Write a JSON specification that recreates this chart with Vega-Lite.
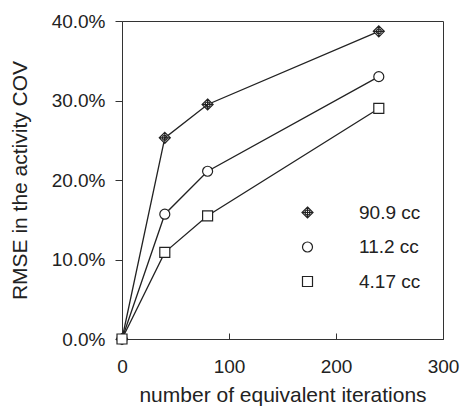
{
  "$schema": "https://vega.github.io/schema/vega-lite/v6.json",
  "autosize": "none",
  "padding": {"left": 122, "top": 21, "right": 18, "bottom": 68},
  "width": 321,
  "height": 318,
  "background": "white",
  "config": {
    "font": "Liberation Sans",
    "view": {"stroke": "#333", "strokeWidth": 1},
    "axis": {
      "grid": false,
      "labelFont": "Liberation Sans",
      "titleFont": "Liberation Sans",
      "labelFontSize": 19,
      "titleFontSize": 21,
      "titleFontWeight": "normal",
      "labelColor": "#222",
      "titleColor": "#222",
      "domainColor": "#333",
      "tickColor": "#333",
      "domainWidth": 1,
      "tickWidth": 1,
      "labelFlush": false
    }
  },
  "data": {
    "values": [
      {"series": "90.9 cc", "curve": "90.9 cc", "iter": 0, "rmse": 0},
      {"series": "90.9 cc", "curve": "90.9 cc", "iter": 40, "rmse": 0.253},
      {"series": "90.9 cc", "curve": "90.9 cc", "iter": 80, "rmse": 0.295},
      {"series": "90.9 cc", "curve": "90.9 cc", "iter": 240, "rmse": 0.387},
      {"series": "11.2 cc", "curve": "11.2 cc", "iter": 0, "rmse": 0},
      {"series": "11.2 cc", "curve": "11.2 cc", "iter": 40, "rmse": 0.157},
      {"series": "11.2 cc", "curve": "11.2 cc", "iter": 80, "rmse": 0.211},
      {"series": "11.2 cc", "curve": "11.2 cc", "iter": 240, "rmse": 0.330},
      {"series": "4.17 cc", "curve": "4.17 cc", "iter": 0, "rmse": 0},
      {"series": "4.17 cc", "curve": "4.17 cc", "iter": 40, "rmse": 0.109},
      {"series": "4.17 cc", "curve": "4.17 cc", "iter": 80, "rmse": 0.155},
      {"series": "4.17 cc", "curve": "4.17 cc", "iter": 240, "rmse": 0.290}
    ]
  },
  "encoding": {
    "x": {
      "field": "iter", "type": "quantitative",
      "scale": {"domain": [0, 300], "nice": false, "zero": true},
      "axis": {"values": [0, 100, 200, 300], "tickSize": -6, "labelPadding": 24, "labelFlush": false, "title": "number of equivalent iterations", "titlePadding": 8}
    },
    "y": {
      "field": "rmse", "type": "quantitative",
      "scale": {"domain": [0, 0.4], "nice": false},
      "axis": {"values": [0, 0.1, 0.2, 0.3, 0.4], "format": ".1%", "tickSize": 7, "labelPadding": 10, "labelFlush": false, "title": "RMSE in the activity COV", "titlePadding": 21}
    }
  },
  "layer": [
    {
      "mark": {"type": "line", "color": "#222", "strokeWidth": 1.3},
      "encoding": {"detail": {"field": "series", "type": "nominal"}}
    },
    {
      "mark": {"type": "point", "filled": false, "fill": "white", "fillOpacity": 1, "strokeWidth": 1.2, "size": 100, "opacity": 1},
      "encoding": {
        "shape": {
          "field": "series", "type": "nominal",
          "scale": {
            "domain": ["90.9 cc", "11.2 cc", "4.17 cc"],
            "range": [
              "M0,-1.1L1.1,0L0,1.1L-1.1,0Z M0,-1.1V1.1 M-1.1,0H1.1 M-0.5,0A0.5,0.5 0 1,0 0.5,0A0.5,0.5 0 1,0 -0.5,0",
              "circle",
              "square"
            ]
          },
          "legend": null
        },
        "color": {
          "field": "curve", "type": "nominal",
          "scale": {
            "domain": ["90.9 cc", "11.2 cc", "4.17 cc"],
            "range": ["#222", "#222", "#222"]
          },
          "legend": {
            "orient": "none",
            "legendX": 176,
            "legendY": 182,
            "title": null,
            "labelFont": "Liberation Sans",
            "labelFontSize": 19,
            "labelColor": "#222",
            "labelOffset": 42,
            "rowPadding": 14.5,
            "symbolFillColor": "white",
            "symbolStrokeWidth": 1.2,
            "encode": {
              "symbols": {
                "shape": {
                  "value": {
                    "expr": "datum.value == '90.9 cc' ? 'M-6.3,0H-1.1M1.1,0H6.3M0,-1.1L1.1,0L0,1.1L-1.1,0Z M0,-1.1V1.1 M-1.1,0H1.1 M-0.5,0A0.5,0.5 0 1,0 0.5,0A0.5,0.5 0 1,0 -0.5,0' : datum.value == '11.2 cc' ? 'M-6.3,0H-1M1,0H6.3M-1,0A1,1 0 1,0 1,0A1,1 0 1,0 -1,0' : 'M-6.3,0H-1M1,0H6.3M-1,-1H1V1H-1Z'"
                  }
                }
              }
            }
          }
        }
      }
    }
  ]
}
